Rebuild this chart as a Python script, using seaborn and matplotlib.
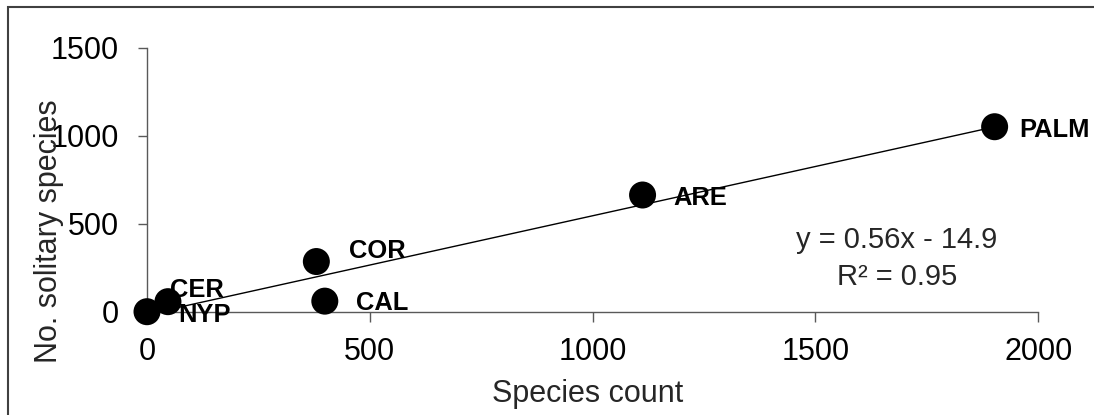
import matplotlib
matplotlib.use("Agg")
import matplotlib.pyplot as plt
import matplotlib.patches as mpatches
import numpy as np
import pandas as pd
import seaborn as sns

# ---- data ----
names = ["NYP", "CER", "COR", "CAL", "ARE", "PALM"]
species_count = [0, 47, 380, 399, 1112, 1902]
solitary_species = [0, 57, 285, 60, 663, 1051]
slope = 0.56
intercept = -14.9
equation_text = "y = 0.56x - 14.9"
r2_text = "R² = 0.95"
x_ticks = [0, 500, 1000, 1500, 2000]
y_ticks = [0, 500, 1000, 1500]

# label offsets (points) relative to marker centres
label_offsets = {
    "NYP": (22.3, -7.2),
    "CER": (1.4, 3.6),
    "COR": (23.3, 2.4),
    "CAL": (22.1, -6.5),
    "ARE": (21.9, -7.2),
    "PALM": (18.0, -7.2),
}

sns.set_style("white")
plt.rcParams["font.family"] = ["Liberation Sans", "DejaVu Sans"]

df = pd.DataFrame({"x": species_count, "y": solitary_species, "name": names})

W, H = 1094, 415
fig = plt.figure(figsize=(W / 100, H / 100), dpi=100)
ax = fig.add_axes([147 / W, (H - 311.7) / H, (1038.3 - 147) / W, (311.7 - 47.7) / H])

spine_col = "#595959"

# trendline
xl = np.array([min(species_count), max(species_count)], dtype=float)
ax.plot(xl, slope * xl + intercept, color="black", lw=1.0, zorder=2)

sns.scatterplot(data=df, x="x", y="y", ax=ax, s=378, color="black",
                edgecolor="none", linewidth=0, zorder=3, clip_on=False, legend=False)

for n, xv, yv in zip(names, species_count, solitary_species):
    dx, dy = label_offsets[n]
    ax.annotate(n, (xv, yv), xytext=(dx, dy), textcoords="offset points",
                ha="left", va="baseline", fontsize=18.4, fontweight="bold",
                color="black", zorder=4, annotation_clip=False)

ax.set_xlim(0, 2000)
ax.set_ylim(0, 1500)
ax.set_xticks(x_ticks)
ax.set_yticks(y_ticks)

for s in ["top", "right"]:
    ax.spines[s].set_visible(False)
for s in ["left", "bottom"]:
    ax.spines[s].set_color(spine_col)
    ax.spines[s].set_linewidth(1.0)

ax.tick_params(axis="x", direction="out", length=7, width=1.0, color=spine_col,
               labelsize=22, pad=11, labelcolor="black", bottom=True)
ax.tick_params(axis="y", direction="out", length=6.8, width=1.0, color=spine_col,
               labelsize=22, pad=13.7, labelcolor="black", left=True)

ax.set_xlabel("Species count", fontsize=22, va="baseline")
ax.xaxis.set_label_coords((587.5 - 147) / 891.3, (311.7 - 401.7) / 264)
ax.set_ylabel("No. solitary species", fontsize=22, va="baseline")
ax.yaxis.set_label_coords((57 - 147) / 891.3, (311.7 - 231) / 264)

ax.text((896.7 - 147) / 891.3, (311.7 - 248.3) / 264, equation_text,
        transform=ax.transAxes, ha="center", va="baseline", fontsize=21)
ax.text((896.7 - 147) / 891.3, (311.7 - 285) / 264, r2_text,
        transform=ax.transAxes, ha="center", va="baseline", fontsize=21)

ax.set_facecolor("white")
fig.patch.set_facecolor("white")

# outer chart border
border = mpatches.Rectangle((8 / W, -0.1), 1.2, 1 - 7 / H + 0.1,
                            transform=fig.transFigure, fill=False,
                            edgecolor="#404040", linewidth=1.5, clip_on=False)
fig.patches.append(border)

fig.savefig("out.png", dpi=100)
